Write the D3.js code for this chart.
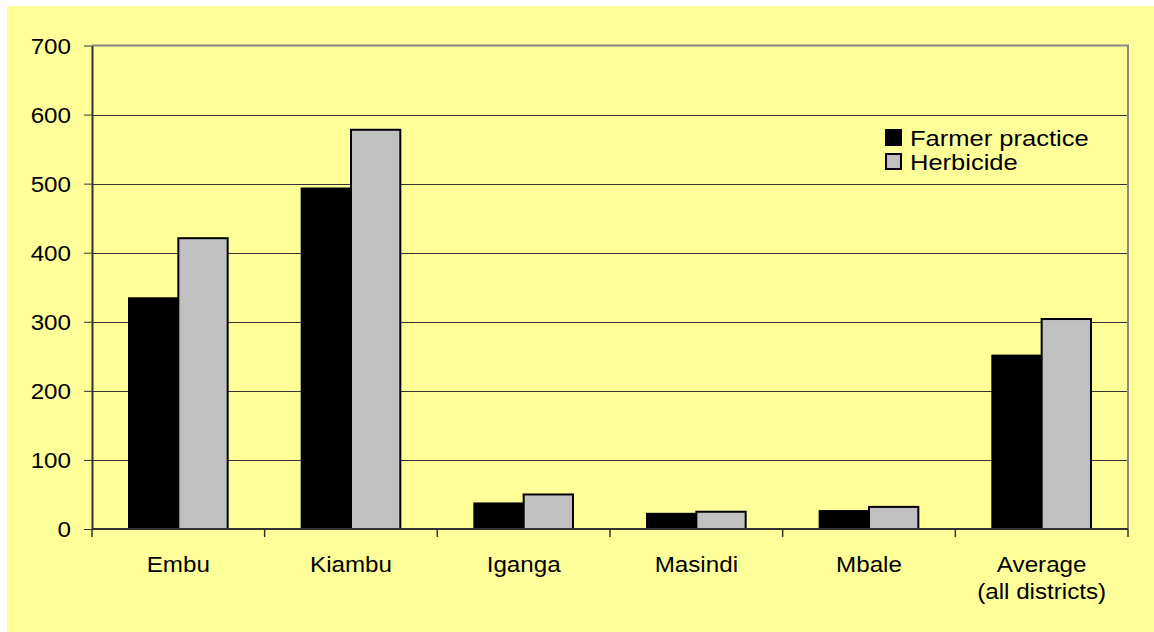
<!DOCTYPE html>
<html>
<head>
<meta charset="utf-8">
<script src="https://cdn.jsdelivr.net/npm/d3@7/dist/d3.min.js"></script>
<style>
  html, body { margin: 0; padding: 0; background: #fff; }
  svg { display: block; }
  text { font-family: "Liberation Sans", Arial, sans-serif; fill: #000; }
</style>
</head>
<body>
<div id="chart-area"></div>
<script>
// data
const categories = ["Embu", "Kiambu", "Iganga", "Masindi", "Mbale", "Average\n(all districts)"];
const seriesNames = ["Farmer practice", "Herbicide"];
const farmerPractice = [334, 493, 37, 22, 26, 251];
const herbicide = [421, 578, 50, 25, 32, 304];
const yTicks = [0, 100, 200, 300, 400, 500, 600, 700];
const seriesColors = ["#000000", "#c0c0c0"];

const width = 1154, height = 632;
const plotLeft = 92, plotRight = 1128, plotTop = 45.5, plotBottom = 529;

const svg = d3.select("#chart-area").append("svg")
  .attr("width", width)
  .attr("height", height);

// yellow chart background
svg.append("rect")
  .attr("x", 7).attr("y", 6)
  .attr("width", width - 7).attr("height", height - 6)
  .attr("fill", "#ffff99");

const x0 = d3.scaleBand().domain(categories).range([plotLeft, plotRight]).padding(0);
const x1 = d3.scaleBand().domain(seriesNames).range([0, x0.bandwidth()])
  .paddingInner(0).paddingOuter(0.75);
const y = d3.scaleLinear().domain([0, 700]).range([plotBottom, plotTop]);

// gridlines
svg.append("g")
  .selectAll("line")
  .data(yTicks.filter(d => d > 0 && d < 700))
  .enter().append("line")
  .attr("x1", plotLeft).attr("x2", plotRight)
  .attr("y1", d => Math.round(y(d)) + 0.5).attr("y2", d => Math.round(y(d)) + 0.5)
  .attr("stroke", "#333")
  .attr("stroke-width", 1);

// frame top and right
svg.append("path")
  .attr("d", `M${plotLeft},${y(700)}H${plotRight}V${plotBottom}`)
  .attr("fill", "none")
  .attr("stroke", "#888")
  .attr("stroke-width", 2);

// bars
const rows = categories.map((c, i) => ({ cat: c, vals: [farmerPractice[i], herbicide[i]] }));
const groups = svg.append("g").selectAll("g")
  .data(rows)
  .enter().append("g")
  .attr("transform", d => "translate(" + x0(d.cat) + ",0)");

groups.selectAll("rect")
  .data(d => d.vals.map((v, j) => ({ name: seriesNames[j], v: v, j: j })))
  .enter().append("rect")
  .attr("x", d => x1(d.name))
  .attr("width", x1.bandwidth())
  .attr("y", d => y(d.v))
  .attr("height", d => y(0) - y(d.v))
  .attr("fill", d => seriesColors[d.j])
  .attr("stroke", "#000")
  .attr("stroke-width", 2);

// y axis
const yAxis = svg.append("g")
  .attr("transform", "translate(" + plotLeft + ",0)")
  .call(d3.axisLeft(y).tickValues(yTicks).tickSize(8).tickSizeOuter(0));
yAxis.select(".domain").attr("stroke", "#333").attr("stroke-width", 2);
yAxis.selectAll(".tick line").attr("stroke", "#333").attr("stroke-width", 1);
yAxis.selectAll(".tick text")
  .attr("x", null).attr("dy", "0.35em")
  .attr("transform", "translate(-21,0) scale(1.1,1)")
  .attr("text-anchor", "end")
  .style("font-size", "22px")
  .style("font-family", "'Liberation Sans', Arial, sans-serif")
  .attr("fill", "#000");

// x axis line and category ticks
const xAxis = svg.append("g");
xAxis.append("line")
  .attr("x1", plotLeft).attr("x2", plotRight)
  .attr("y1", plotBottom).attr("y2", plotBottom)
  .attr("stroke", "#333").attr("stroke-width", 2);
const bounds = categories.map(c => x0(c)).concat([x0(categories[categories.length - 1]) + x0.bandwidth()]);
xAxis.selectAll(".xt")
  .data(bounds)
  .enter().append("line")
  .attr("class", "xt")
  .attr("x1", d => d).attr("x2", d => d)
  .attr("y1", plotBottom).attr("y2", plotBottom + 8)
  .attr("stroke", "#333").attr("stroke-width", 1.5);

const xl = xAxis.selectAll(".xl")
  .data(categories)
  .enter().append("text")
  .attr("class", "xl")
  .attr("text-anchor", "middle")
  .attr("transform", d => "translate(" + (x0(d) + x0.bandwidth() / 2) + ",572) scale(1.1,1)")
  .style("font-size", "22px");
xl.selectAll("tspan")
  .data(d => d.split("\n"))
  .enter().append("tspan")
  .attr("x", 0)
  .attr("dy", (d, i) => i === 0 ? 0 : 27)
  .text(d => d);

// legend
const legend = svg.append("g").attr("transform", "translate(885,129)");
const li = legend.selectAll("g")
  .data(seriesNames)
  .enter().append("g")
  .attr("transform", (d, i) => "translate(0," + i * 24 + ")");
li.append("rect")
  .attr("x", 1).attr("y", 1)
  .attr("width", 15).attr("height", 15)
  .attr("fill", (d, i) => seriesColors[i])
  .attr("stroke", "#000").attr("stroke-width", 2);
li.append("text")
  .attr("transform", "translate(25,17) scale(1.16,1)")
  .style("font-size", "22px")
  .text(d => d);
</script>
</body>
</html>
